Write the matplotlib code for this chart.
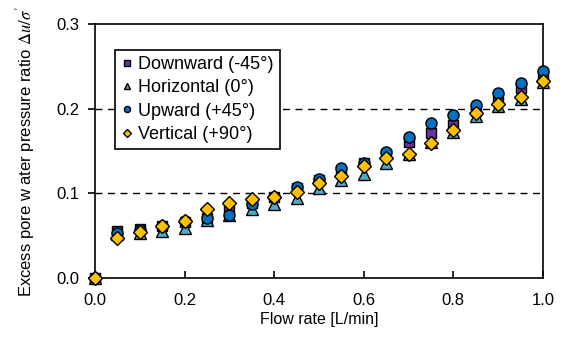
import matplotlib
matplotlib.use("Agg")
import matplotlib.pyplot as plt
import numpy as np

plt.rcParams['font.family'] = ['Liberation Sans', 'DejaVu Sans']
plt.rcParams['mathtext.fontset'] = 'stix'

flow = [0.0, 0.05, 0.1, 0.15, 0.2, 0.25, 0.3, 0.35, 0.4, 0.45, 0.5,
        0.55, 0.6, 0.65, 0.7, 0.75, 0.8, 0.85, 0.9, 0.95, 1.0]

downward = [0.0, 0.056, 0.058, 0.061, 0.066, 0.071, 0.083, 0.088, 0.096, 0.106, 0.116,
            0.126, 0.136, 0.147, 0.161, 0.171, 0.181, 0.197, 0.212, 0.224, 0.238]
horizontal = [0.0, 0.052, 0.053, 0.055, 0.059, 0.069, 0.075, 0.081, 0.087, 0.094, 0.106,
              0.116, 0.123, 0.136, 0.147, 0.161, 0.173, 0.191, 0.203, 0.212, 0.232]
upward = [0.0, 0.053, 0.057, 0.061, 0.067, 0.071, 0.075, 0.087, 0.096, 0.107, 0.117,
          0.130, 0.136, 0.149, 0.166, 0.183, 0.193, 0.204, 0.219, 0.230, 0.245]
vertical = [0.0, 0.047, 0.054, 0.062, 0.067, 0.081, 0.089, 0.093, 0.096, 0.101, 0.112,
            0.120, 0.132, 0.142, 0.146, 0.160, 0.175, 0.195, 0.206, 0.214, 0.233]

labels = ["Downward (-45°)", "Horizontal (0°)", "Upward (+45°)", "Vertical (+90°)"]

fig = plt.figure(figsize=(5.67, 3.39), dpi=100)
ax = fig.add_axes([0.1676, 0.18, 0.79, 0.749])

# gridlines at 0.1 / 0.2
for yv in [0.1, 0.2]:
    ax.axhline(yv, color='black', ls=(0, (5, 4)), lw=1.0, zorder=1)

ax.plot(flow, downward, ls='none', marker='s', ms=7.5, mfc='#7030A0', mec='black', mew=1.0,
        label=labels[0], zorder=3, clip_on=False)
ax.plot(flow, horizontal, ls='none', marker='^', ms=8, mfc='#4BACC6', mec='black', mew=1.0,
        label=labels[1], zorder=3, clip_on=False)
ax.plot(flow, upward, ls='none', marker='o', ms=8, mfc='#0070C0', mec='black', mew=1.0,
        label=labels[2], zorder=3, clip_on=False)
ax.plot(flow, vertical, ls='none', marker='D', ms=7, mfc='#FFC000', mec='black', mew=1.0,
        label=labels[3], zorder=4, clip_on=False)

ax.set_xlim(0, 1.0)
ax.set_ylim(0, 0.3)
ax.set_xticks([0.0, 0.2, 0.4, 0.6, 0.8, 1.0])
ax.set_yticks([0.0, 0.1, 0.2, 0.3])
ax.xaxis.set_major_formatter(matplotlib.ticker.FormatStrFormatter('%.1f'))
ax.yaxis.set_major_formatter(matplotlib.ticker.FormatStrFormatter('%.1f'))
ax.tick_params(axis='x', direction='in', length=5, width=1.2, labelsize=12, pad=11)
ax.tick_params(axis='y', direction='out', length=5, width=1.2, labelsize=12, pad=6)
for s in ax.spines.values():
    s.set_linewidth(1.2)

ax.set_xlabel("Flow rate [L/min]", fontsize=11.5, labelpad=3)
ax.set_ylabel(r"Excess pore w ater pressure ratio $\mathit{\Delta u/\sigma'}$", fontsize=12, labelpad=14)

leg = ax.legend(loc='upper left', bbox_to_anchor=(0.025, 0.935), fontsize=13,
                markerscale=0.55, handlelength=0.6, handletextpad=0.3,
                borderpad=0.35, labelspacing=0.35, fancybox=False, framealpha=1,
                edgecolor='black')
leg.get_frame().set_linewidth(1.2)

fig.savefig("out.png", dpi=100)
